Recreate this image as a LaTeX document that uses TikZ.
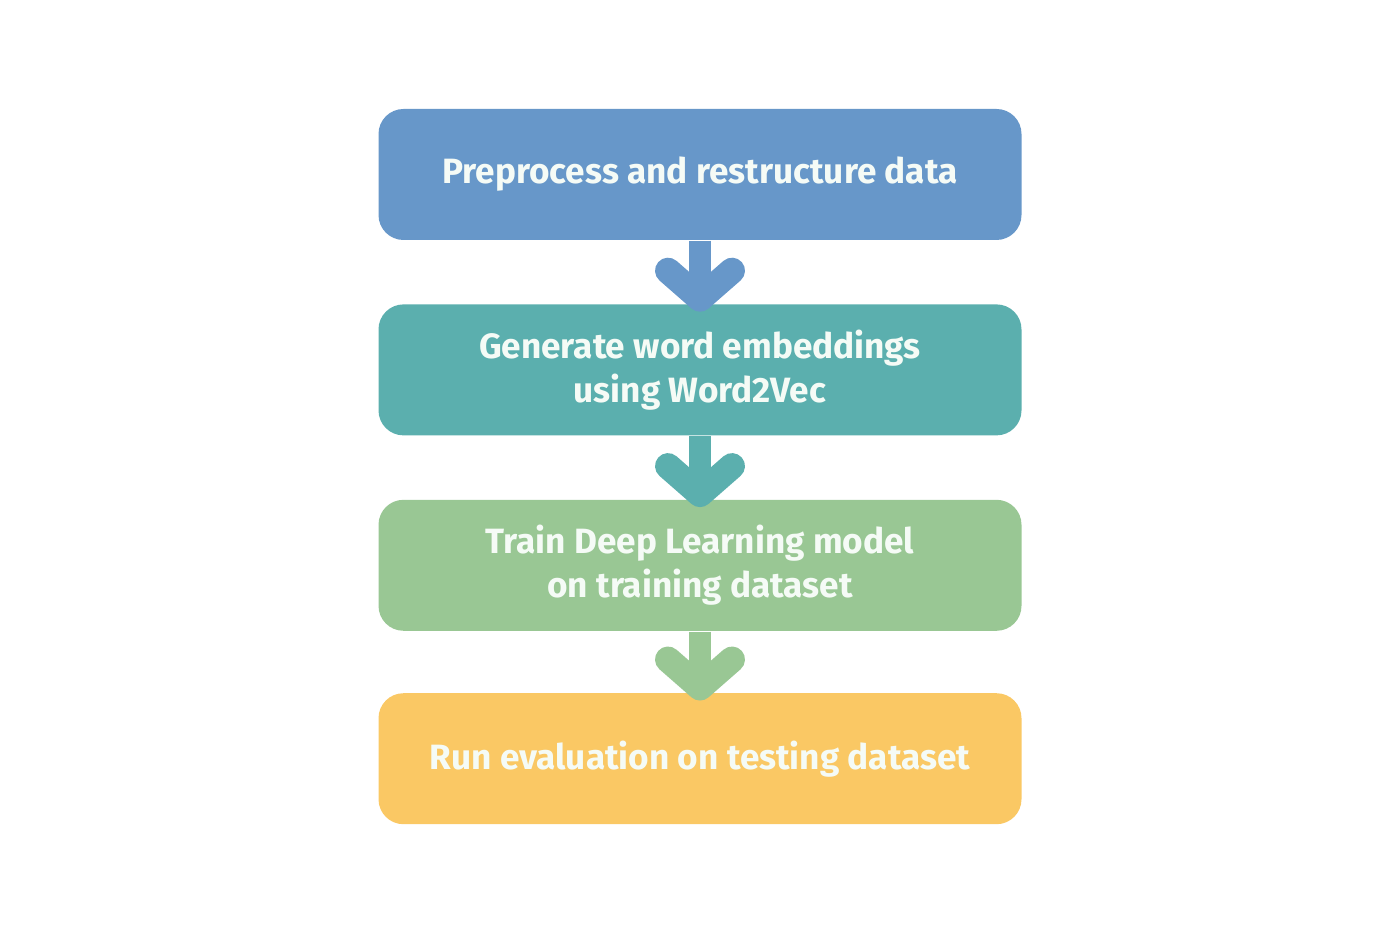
\documentclass[tikz,border=0pt]{standalone}
\usepackage{fontspec}
\setmainfont{Fira Sans}
\usepackage{tikz}
\usetikzlibrary{positioning, calc}

\definecolor{stepblue}{HTML}{6797C9}
\definecolor{stepteal}{HTML}{5BAFAE}
\definecolor{stepgreen}{HTML}{99C794}
\definecolor{stepyellow}{HTML}{FAC864}
\definecolor{steptext}{HTML}{F5FBF6}

\begin{document}
\begin{tikzpicture}[
    stepbox/.style={rectangle, rounded corners=0.25cm, minimum width=6.43cm, minimum height=1.31cm,
        align=center, text=steptext, font=\fontsize{10}{12.5}\selectfont\bfseries},
    flowline/.style={line width=0.22cm},
    chevron/.style={line width=0.26cm, line cap=round, line join=round}
]

% Fix the page size
\useasboundingbox (0,0) rectangle (14,9.33);

% The four steps
\node[stepbox, fill=stepblue] (prep) at (7,7.585) {Preprocess and restructure data};
\node[stepbox, fill=stepteal, below=0.63cm of prep] (embed) {Generate word embeddings\\using Word2Vec};
\node[stepbox, fill=stepgreen, below=0.63cm of embed] (train) {Train Deep Learning model\\on training dataset};
\node[stepbox, fill=stepyellow, below=0.61cm of train] (eval) {Run evaluation on testing dataset};

% Arrows between the steps
\foreach \a/\b/\c in {prep/embed/stepblue, embed/train/stepteal, train/eval/stepgreen} {
    \draw[flowline, \c] (\a.south) -- ($(\b.north)+(0,0.08)$);
    \draw[chevron, \c] ($(\b.north)+(-0.32,0.33)$) -- ($(\b.north)+(0,0.05)$) -- ($(\b.north)+(0.32,0.33)$);
}

\end{tikzpicture}
\end{document}
